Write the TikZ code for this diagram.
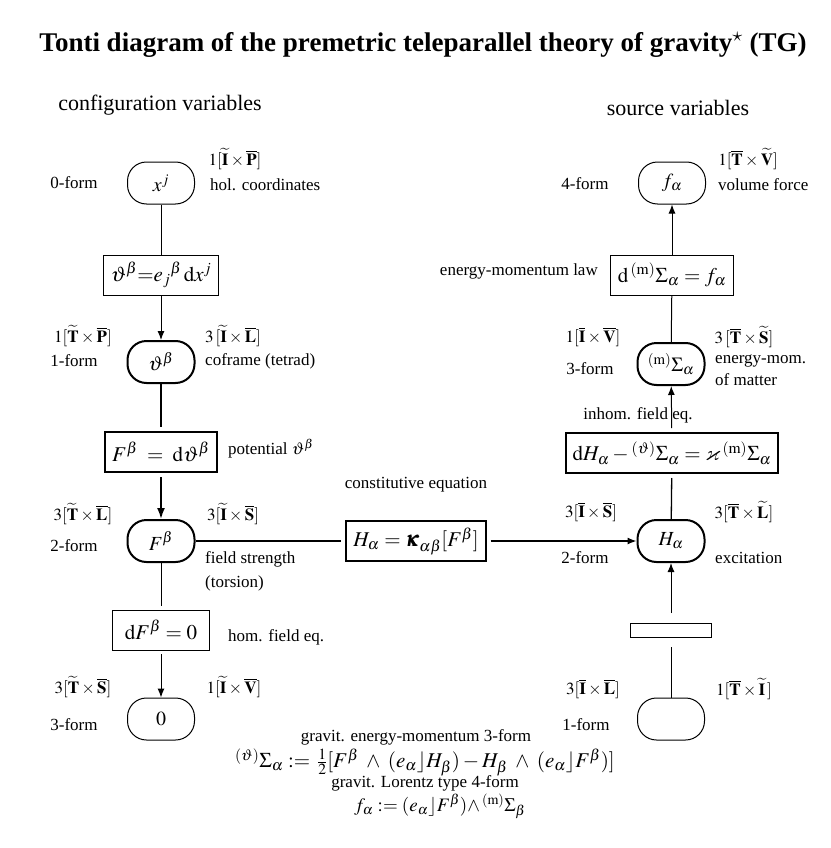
\documentclass[tikz,border=0pt]{standalone}
\usepackage{amsmath}
\usepackage{amssymb}
\usepackage{mathptmx}
\usepackage{bm}
\usepackage[no-math]{fontspec}
\setmainfont{Liberation Serif}
\usetikzlibrary{arrows.meta}
\newcommand{\tI}{\widetilde{\mathbf{I}}}
\newcommand{\tT}{\widetilde{\mathbf{T}}}
\newcommand{\tV}{\widetilde{\mathbf{V}}}
\newcommand{\tS}{\widetilde{\mathbf{S}}}
\newcommand{\tL}{\widetilde{\mathbf{L}}}
\newcommand{\bI}{\overline{\mathbf{I}}}
\newcommand{\bT}{\overline{\mathbf{T}}}
\newcommand{\bP}{\overline{\mathbf{P}}}
\newcommand{\bL}{\overline{\mathbf{L}}}
\newcommand{\bS}{\overline{\mathbf{S}}}
\newcommand{\bV}{\overline{\mathbf{V}}}
\tikzset{
  var/.style={draw, rounded corners=19pt, minimum width=67pt, minimum height=42pt, inner sep=0pt, line width=1pt, font=\fontsize{20}{24}\selectfont},
  varthick/.style={var, line width=2pt},
  eqbox/.style={draw, line width=1pt, inner xsep=7pt, inner ysep=5pt, minimum height=40pt, font=\fontsize{21}{24}\selectfont},
  eqthick/.style={eqbox, line width=1.8pt, outer sep=5pt},
  lbl/.style={inner sep=0pt},
  conn/.style={line width=1pt},
  connthick/.style={line width=1.8pt},
  arr/.style={conn, -{Latex[length=9pt,width=7pt]}},
  arrthick/.style={connthick, -{Latex[length=11pt,width=8pt]}},
}
\begin{document}
\begin{tikzpicture}[x=1pt,y=-1pt,font=\fontsize{17}{21}\selectfont]
\useasboundingbox (0,0) rectangle (830,848);
% title and headers
\node[lbl,font=\fontsize{27}{30}\selectfont\bfseries] (title) at (423,45) {Tonti diagram of the premetric teleparallel theory of gravity$^\star$ (TG)};
\node[lbl,font=\fontsize{22}{26}\selectfont] (conf) at (160,105) {configuration variables};
\node[lbl,font=\fontsize{22}{26}\selectfont] (src) at (678,108) {source variables};
% left column
\node[var] (xj) at (161,183) {$x^j$};
\node[eqbox] (b1) at (161,275) {$\vartheta^\beta{=}e_j{}^\beta\,\mathrm{d}x^j$};
\node[varthick] (th) at (161,362) {$\vartheta^\beta$};
\node[eqthick] (b2) at (161,452) {$F^\beta \;=\; \mathrm{d}\vartheta^\beta$};
\node[varthick] (F) at (161,541) {$F^\beta$};
\node[eqbox,inner xsep=12pt,outer sep=4pt] (b3) at (161,630) {$\mathrm{d}F^\beta=0$};
\node[var] (zero) at (161,719) {$0$};
% middle
\node[eqthick] (cb) at (416,541) {$H_\alpha=\bm{\kappa}_{\alpha\beta}[F^\beta]$};
\node[lbl] (cbl) at (416,485) {constitutive equation};
% right column
\node[var] (fa) at (672,183) {$f_\alpha$};
\node[eqbox] (eb) at (672,275) {$\mathrm{d}\,{}^{(\mathrm{m})}\Sigma_\alpha = f_\alpha$};
\node[varthick] (Sig) at (671,364) {${}^{(\mathrm{m})}\Sigma_\alpha$};
\node[eqthick] (ib) at (672,453) {$\mathrm{d}H_\alpha - {}^{(\vartheta)}\Sigma_\alpha = \varkappa\,{}^{(\mathrm{m})}\Sigma_\alpha$};
\node[varthick] (H) at (671,541) {$H_\alpha$};
\node[draw,line width=1pt,minimum width=81pt,minimum height=14pt,inner sep=0pt,outer sep=10pt] (rect) at (671,630) {};
\node[var] (bot) at (671,719) {};
% left labels
\node[lbl] (l1) at (235,159) {$1[\tI\times\bP]$};
\node[lbl] (l2) at (74,183) {0-form};
\node[lbl,anchor=west] (l3) at (210,185) {hol. coordinates};
\node[lbl] (l4) at (83,336) {$1[\tT\times\bP]$};
\node[lbl] (l5) at (233,336) {$3\,[\tI\times\bL]$};
\node[lbl] (l6) at (74,361) {1-form};
\node[lbl,anchor=west] (l7) at (205,361) {coframe (tetrad)};
\node[lbl,anchor=west] (l8) at (228,449) {potential $\vartheta^\beta$};
\node[lbl] (l9) at (83,514) {$3[\tT\times\bL]$};
\node[lbl] (l10) at (233,514) {$3[\tI\times\bS]$};
\node[lbl] (l11) at (74,546) {2-form};
\node[lbl,anchor=west,align=left,font=\fontsize{17}{24}\selectfont] (l12) at (205,571) {field strength\\(torsion)};
\node[lbl,anchor=west] (l13) at (228,637) {hom. field eq.};
\node[lbl] (l14) at (83,687) {$3[\tT\times\bS]$};
\node[lbl] (l15) at (234,687) {$1[\tI\times\bV]$};
\node[lbl] (l16) at (74,725) {3-form};
% right labels
\node[lbl] (r1) at (748,159) {$1[\bT\times\tV]$};
\node[lbl] (r2) at (585,184) {4-form};
\node[lbl,anchor=west] (r3) at (718,185) {volume force};
\node[lbl,anchor=east] (r4) at (598,271) {energy-momentum law};
\node[lbl] (r5) at (593,337) {$1[\bI\times\bV]$};
\node[lbl] (r6) at (744,337) {$3\,[\bT\times\tS]$};
\node[lbl] (r7) at (590,369) {3-form};
\node[lbl,anchor=west,align=left,font=\fontsize{17}{22}\selectfont] (r8) at (715,370) {energy-mom.\\of matter};
\node[lbl] (r9) at (638,415) {inhom. field eq.};
\node[lbl] (r10) at (591,512) {$3[\bI\times\bS]$};
\node[lbl] (r11) at (744,512) {$3[\bT\times\tL]$};
\node[lbl] (r12) at (585,558) {2-form};
\node[lbl,anchor=west] (r13) at (715,558) {excitation};
\node[lbl] (r14) at (593,689) {$3[\bI\times\bL]$};
\node[lbl] (r15) at (744,689) {$1[\bT\times\tI\,]$};
\node[lbl] (r16) at (586,725) {1-form};
% bottom
\node[lbl] (g1) at (416,737) {gravit. energy-momentum 3-form};
\node[lbl,font=\fontsize{21}{24}\selectfont] (g2) at (425,762) {${}^{(\vartheta)}\Sigma_\alpha :=\, \tfrac{1}{2}[F^\beta\;\wedge\;(e_\alpha\rfloor H_\beta) - H_\beta\;\wedge\;(e_\alpha\rfloor F^\beta)]$};
\node[lbl] (g3) at (425,783) {gravit. Lorentz type 4-form};
\node[lbl,font=\fontsize{19}{22}\selectfont] (g4) at (440,806) {$f_\alpha := (e_\alpha\rfloor F^\beta){\wedge}\,{}^{(\mathrm{m})}\Sigma_\beta$};
% connectors
\draw[conn] (xj) -- (b1);
\draw[arr] (b1) -- (th);
\draw[connthick] (th) -- (b2);
\draw[arrthick] (b2) -- (F);
\draw[conn] (F) -- (b3);
\draw[arr] (b3) -- (zero);
\draw[conn,line width=1.3pt] (F) -- (cb);
\draw[arr,line width=1.3pt] (cb) -- (H);
\draw[arr] (rect) -- (H);
\draw[conn] (bot) -- (rect);
\draw[conn,line width=1.3pt] (H) -- (ib);
\draw[arr] (ib) -- (Sig);
\draw[conn] (Sig) -- (eb);
\draw[arr] (eb) -- (fa);
\end{tikzpicture}
\end{document}
